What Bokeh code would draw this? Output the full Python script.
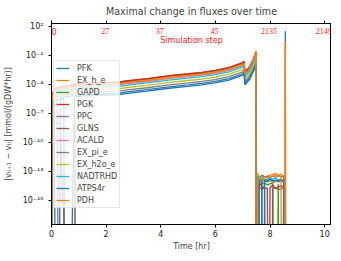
from bokeh.plotting import figure
from bokeh.models import (Range1d, FixedTicker, LinearAxis, Legend, LegendItem,
                          ColumnDataSource, LabelSet, Label)
from bokeh.embed import file_html
from bokeh.resources import INLINE

# ---------------- data (log10 of |v(t_i+1) - v(t_i)|, -60 = zero change) -------------
time_early = [0.0, 0.02, 0.05, 0.1, 0.2, 0.33, 0.4, 0.45, 0.5, 0.84, 0.86, 0.88, 1.0, 1.5, 2.0, 2.5]
time_band = [2.7, 3.5, 4.3, 5.0, 5.5, 6.0, 6.5, 7.0, 7.05, 7.08, 7.25, 7.45, 7.48]
time_late = [7.5, 7.55, 7.6, 7.65, 7.7, 7.75, 7.8, 7.9, 8.0, 8.1, 8.2, 8.3, 8.4, 8.5, 8.53, 8.56, 8.58, 8.6]

series_names = ["PFK", "EX_h_e", "GAPD", "PGK", "PPC", "GLNS", "ACALD", "EX_pi_e",
                "EX_h2o_e", "NADTRHD", "ATPS4r", "PDH"]
series_colors = ["#1f77b4", "#ff7f0e", "#2ca02c", "#d62728", "#9467bd", "#8c564b",
                 "#e377c2", "#7f7f7f", "#bcbd22", "#17becf", "#1f77b4", "#ff7f0e"]

log_PFK = ([-60, -6.4, -6.2, -5.8, -5.65, -5.55, -5.5, -5.48, -60, -5.32, -5.3, -5.28, -5.25, -5.15, -5.1, -5.05]
           + [-4.95, -4.7, -4.4, -4.2, -4.05, -3.85, -3.55, -3.05, -2.9, -4.05, -3.5, -2.3, -1.9]
           + [-60, -13.8, -14.0, -60, -13.9, -14.0, -13.9, -14.1, -14.0, -13.9, -14.0, -14.1, -14.0, -14.0, -60, 1.5, -60, -60])
log_EX_h_e = ([-60, -5.4, -5.02, -4.62, -4.47, -4.37, -4.32, -4.3, -4.27, -4.14, -4.12, -4.1, -4.07, -3.97, -3.92, -3.87]
              + [-3.77, -3.52, -3.22, -3.02, -2.87, -2.67, -2.37, -1.87, -1.72, -2.87, -2.32, -1.0, -0.55]
              + [-60, -13.6, -13.5, -13.7, -13.5, -13.4, -13.6, -13.5, -13.4, -13.3, -13.2, -13.4, -13.3, -13.5, -60, 0.4, -60, -60])
log_GAPD = ([-60, -5.7, -4.93, -4.53, -4.38, -4.28, -4.23, -4.21, -4.18, -4.05, -4.03, -4.01, -3.98, -3.88, -3.83, -3.78]
            + [-3.68, -3.43, -3.13, -2.93, -2.78, -2.58, -2.28, -1.78, -1.63, -2.78, -2.23, -1.03, -0.63]
            + [-60, -14.2, -14.0, -14.2, -14.1, -14.3, -14.2, -14.4, -14.3, -14.2, -60, -14.3, -60, -14.2, -60, -60, -60, -60])
log_PGK = ([-60, -5.6, -4.9, -4.5, -4.35, -4.25, -4.2, -4.18, -4.15, -4.02, -4.0, -3.98, -3.95, -3.85, -3.8, -3.75]
           + [-3.65, -3.4, -3.1, -2.9, -2.75, -2.55, -2.25, -1.75, -1.6, -2.75, -2.2, -1.0, -0.6]
           + [-60, -14.3, -14.5, -14.3, -14.6, -14.8, -14.5, -60, -14.7, -14.4, -14.8, -14.6, -14.5, -14.6, -60, -60, -60, -60])
log_PPC = ([-60, -6.0, -5.3, -5.0, -4.9, -60, -60, -60, -60, -60, -60, -60, -60, -60, -60, -60]
           + [-60] * 13 + [-60] * 18)
log_GLNS = ([-60, -6.5, -7.5, -7.8, -8.0, -8.1, -16.3, -16.3, -60, -60, -8.0, -60, -60, -60, -60, -60]
            + [-60] * 13
            + [-60, -14.6, -14.8, -14.7, -14.9, -14.6, -14.8, -14.7, -60, -14.8, -14.7, -14.9, -14.8, -14.7, -60, -60, -60, -60])
log_ACALD = ([-60, -5.9, -5.2, -4.8, -4.65, -4.55, -4.5, -4.48, -4.45, -4.32, -4.3, -4.28, -4.25, -4.15, -4.1, -4.05]
             + [-3.95, -3.7, -3.4, -3.2, -3.05, -2.85, -2.55, -2.05, -1.9, -3.05, -2.5, -1.3, -0.9]
             + [-60, -13.9, -14.1, -14.0, -14.2, -14.0, -14.1, -13.9, -14.0, -14.2, -14.1, -13.9, -14.0, -14.1, -60, -60, -60, -60])
log_EX_pi_e = ([-60, -6.1, -5.85, -5.45, -5.3, -5.2, -5.15, -5.13, -5.1, -4.97, -4.95, -4.93, -4.9, -4.8, -4.75, -4.7]
               + [-4.6, -4.35, -4.05, -3.85, -3.7, -3.5, -3.2, -2.7, -2.55, -3.7, -3.15, -1.95, -1.55]
               + [-60, -13.5, -13.6, -13.5, -13.4, -13.5, -13.6, -13.5, -13.6, -13.5, -13.6, -13.5, -13.5, -13.6, -60, -60, -60, -60])
log_EX_h2o_e = ([-60, -6.2, -5.6, -5.2, -5.05, -4.95, -4.9, -4.88, -4.85, -4.72, -4.7, -4.68, -4.65, -4.55, -4.5, -4.45]
                + [-4.35, -4.1, -3.8, -3.6, -3.45, -3.25, -2.95, -2.45, -2.3, -3.45, -2.9, -1.7, -1.3]
                + [-60, -13.1, -13.8, -14.0, -13.9, -14.1, -14.0, -13.9, -14.0, -14.1, -14.0, -13.9, -14.0, -14.0, -60, -60, -60, -60])
log_NADTRHD = ([-60, -6.0, -5.35, -4.95, -4.8, -4.7, -4.65, -4.63, -4.6, -4.47, -4.45, -4.43, -4.4, -4.3, -4.25, -4.2]
               + [-4.1, -3.85, -3.55, -3.35, -3.2, -3.0, -2.7, -2.2, -2.05, -3.2, -2.65, -1.45, -1.05]
               + [-60, -13.5, -13.7, -13.9, -13.8, -13.6, -13.9, -13.8, -13.7, -13.8, -13.7, -13.9, -13.8, -13.9, -60, -60, -60, -60])
log_ATPS4r = ([-60, -6.3, -6.05, -5.65, -60, -5.4, -5.35, -5.33, -5.3, -5.17, -5.15, -5.13, -5.1, -5.0, -4.95, -4.9]
              + [-4.8, -4.55, -4.25, -4.05, -3.9, -3.7, -3.4, -2.9, -2.75, -3.9, -3.35, -2.15, -1.75]
              + [-60, -60, -13.8, -13.9, -14.0, -60, -13.9, -14.0, -13.8, -14.0, -13.9, -14.0, -13.9, -14.0, -60, -60, -60, -60])
log_PDH = ([-60, -5.5, -5.1, -4.7, -4.55, -4.45, -4.4, -4.38, -4.35, -4.22, -4.2, -4.18, -4.15, -4.05, -4.0, -3.95]
           + [-3.85, -3.6, -3.3, -3.1, -2.95, -2.75, -2.45, -1.95, -1.8, -2.95, -2.4, -0.9, -0.6]
           + [-60, -14.0, -13.8, -13.7, -13.9, -13.8, -13.6, -13.7, -13.6, -13.5, -13.4, -13.5, -13.6, -60, -60, 0.3, -60, -60])

x_ticks = [0, 2, 4, 6, 8, 10]
step_labels = ["0", "27", "37", "45", "2135", "2149"]
y_tick_exponents = [2, -1, -4, -7, -10, -13, -16]

series_logs = [log_PFK, log_EX_h_e, log_GAPD, log_PGK, log_PPC, log_GLNS, log_ACALD,
               log_EX_pi_e, log_EX_h2o_e, log_NADTRHD, log_ATPS4r, log_PDH]
time_hr = time_early + time_band + time_late

FONT = "DejaVu Sans"
RED = "#ff2020"

p = figure(width=331, height=253, output_backend="svg", toolbar_location=None,
           y_axis_type="log", x_range=Range1d(0, 10.25),
           y_range=Range1d(10 ** -18.5, 10 ** 2.3),
           min_border_left=0, min_border_right=0, min_border_top=0, min_border_bottom=0)
p.background_fill_color = "white"
p.border_fill_color = "white"
p.outline_line_color = "black"
p.outline_line_width = 1
p.grid.visible = False

p.title.text = "Maximal change in fluxes over time"
p.title.text_font = FONT
p.title.text_font_size = "9.6px"
p.title.text_font_style = "normal"
p.title.align = "center"
p.title.standoff = 7

renderers = []
for name, color, logs in zip(series_names, series_colors, series_logs):
    src = ColumnDataSource(dict(t=time_hr, v=[10.0 ** e for e in logs]))
    r = p.line("t", "v", source=src, color=color, line_width=1.3)
    renderers.append((name, r))

sup = str.maketrans("-0123456789", "⁻⁰¹²³⁴⁵⁶⁷⁸⁹")
y_ticks = [10.0 ** e for e in y_tick_exponents]
p.yaxis.ticker = FixedTicker(ticks=y_ticks, minor_ticks=[])
p.yaxis.major_label_overrides = {10.0 ** e: "10" + str(e).translate(sup) for e in y_tick_exponents}
p.xaxis.ticker = FixedTicker(ticks=x_ticks, minor_ticks=[])

for ax in (p.xaxis[0], p.yaxis[0]):
    ax.major_tick_in = 0
    ax.major_tick_out = 3
    ax.minor_tick_in = 0
    ax.minor_tick_out = 0
    ax.major_label_text_font = FONT
    ax.major_label_text_font_size = "8px"
    ax.major_label_text_color = "#222222"
    ax.axis_label_text_font = FONT
    ax.axis_label_text_font_size = "8px"
    ax.axis_label_text_font_style = "normal"
    ax.axis_line_color = "black"

p.xaxis.axis_label = "Time [hr]"
p.xaxis.major_label_standoff = 2
p.xaxis.axis_label_standoff = 2
p.yaxis.axis_label = "|vₜᵢ₊₁ − vₜᵢ| [mmol/(gDW*hr)]"
p.yaxis.major_label_standoff = 5
p.yaxis.axis_label_standoff = 7

# top axis: tick marks only (labels are drawn inside the frame below)
top = LinearAxis(ticker=FixedTicker(ticks=x_ticks, minor_ticks=[]),
                 major_tick_in=0, major_tick_out=3, minor_tick_out=0, minor_tick_in=0,
                 major_label_text_font_size="1px", major_label_text_alpha=0,
                 major_label_standoff=0, axis_line_color="black")
p.add_layout(top, "above")

top_src = ColumnDataSource(dict(x=x_ticks[1:], y=[10 ** 1.5] * (len(x_ticks) - 1),
                                text=step_labels[1:]))
p.add_layout(LabelSet(x="x", y="y", text="text", source=top_src, text_color=RED,
                      text_font=FONT, text_font_size="8px", text_align="center",
                      text_baseline="middle", x_offset=-1))
p.add_layout(Label(x=x_ticks[0], y=10 ** 1.5, text=step_labels[0], text_color=RED,
                   text_font=FONT, text_font_size="8px", text_align="left",
                   text_baseline="middle", x_offset=0))
p.add_layout(Label(x=5.125, y=10 ** 0.52, text="Simulation step", text_color=RED,
                   text_font=FONT, text_font_size="8px", text_align="center",
                   text_baseline="middle"))

legend = Legend(items=[LegendItem(label=n, renderers=[r]) for n, r in renderers],
                location=(2, 16), label_text_font=FONT, label_text_font_size="8px",
                label_height=10, glyph_height=10, glyph_width=13, spacing=2, padding=2,
                label_standoff=8, margin=0, background_fill_alpha=0.8,
                border_line_color="#cccccc", border_line_width=1)
p.add_layout(legend, "center")

open("out.html", "w").write(file_html(p, INLINE))
